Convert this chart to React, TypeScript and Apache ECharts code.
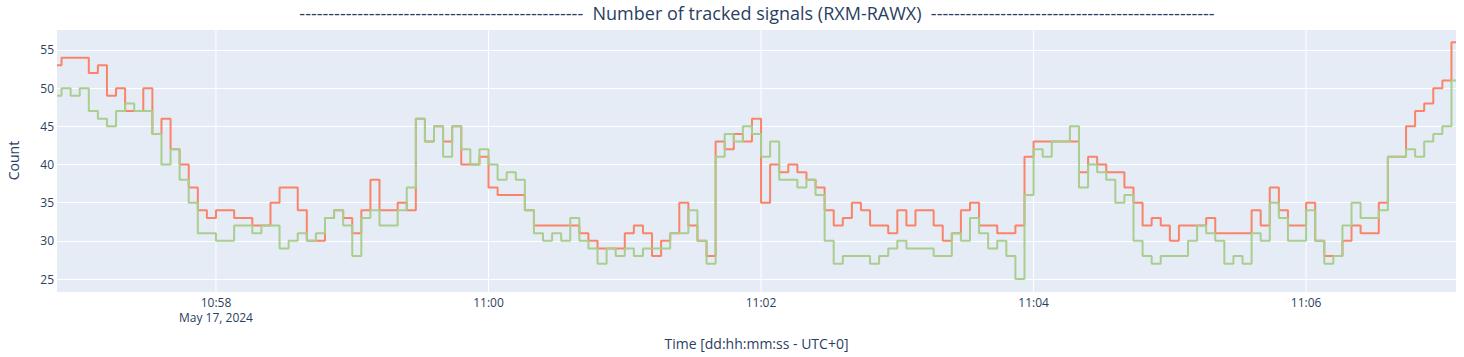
import React, { useEffect, useRef } from "react";
import * as echarts from "echarts";

const START_MS = Date.UTC(2024, 4, 17, 10, 56, 50);
const STEP_S = 4;
const TICK_MS = 120000;

const redCounts = [
  53, 54, 54, 54, 52, 53, 49, 50, 47, 47, 50, 44, 46, 42, 40, 37, 34, 33, 34, 34,
  33, 33, 32, 32, 35, 37, 37, 34, 30, 30, 33, 34, 33, 31, 34, 38, 34, 34, 35,
  34, 46, 43, 45, 43, 45, 40, 40, 41, 37, 36, 36, 36, 34, 32, 32, 32, 32, 32, 31,
  30, 29, 29, 29, 31, 32, 31, 28, 30, 31, 35, 32, 30, 28, 43, 42, 44, 43, 46,
  35, 40, 39, 40, 39, 38, 37, 34, 32, 33, 35, 34, 32, 32, 31, 34, 32, 34, 34, 32,
  30, 31, 34, 35, 32, 32, 31, 31, 32, 41, 43, 43, 43, 43, 43, 39, 41, 40,
  39, 39, 37, 35, 32, 33, 32, 30, 32, 32, 32, 33, 31, 31, 31, 31, 34, 32, 37, 34,
  32, 32, 35, 30, 28, 28, 30, 32, 31, 31, 35, 41, 41, 45, 47, 48, 50, 51, 56,
];

const greenCounts = [
  49, 50, 49, 50, 47, 46, 45, 47, 48, 47, 47, 44, 40, 42, 38, 35, 31, 31, 30, 30,
  32, 32, 31, 32, 32, 29, 30, 31, 30, 31, 33, 34, 32, 28, 33, 34, 32, 32, 34,
  37, 46, 43, 45, 41, 45, 42, 40, 42, 40, 38, 39, 38, 34, 31, 30, 31, 30, 33, 30,
  29, 27, 29, 28, 29, 28, 29, 29, 29, 31, 31, 34, 30, 27, 41, 44, 43, 45, 44,
  41, 43, 38, 38, 37, 38, 36, 30, 27, 28, 28, 28, 27, 28, 29, 30, 29, 29, 29, 28,
  28, 31, 30, 33, 31, 29, 30, 28, 25, 36, 42, 41, 43, 43, 45, 37, 40, 39,
  38, 35, 36, 30, 28, 27, 28, 28, 28, 30, 32, 31, 30, 27, 28, 27, 31, 30, 35, 33,
  30, 30, 34, 30, 27, 28, 32, 35, 33, 33, 34, 41, 41, 42, 41, 43, 44, 45, 51,
];

const times = redCounts.map((_, i) => START_MS + i * STEP_S * 1000);

const dashes = "-".repeat(49);
const titleText = `${dashes}  Number of tracked signals (RXM-RAWX)  ${dashes}`;
const xTitle = "Time [dd:hh:mm:ss - UTC+0]";
const yTitle = "Count";
const dateLabel = "May 17, 2024";

const TEXT = "#2a3f5f";
const FONT = "Open Sans";
const RED = "#FA8468";
const GREEN = "#A9CE8E";

function pad(n: number) {
  return n < 10 ? "0" + n : "" + n;
}

export default function App() {
  const ref = useRef<HTMLDivElement>(null);
  useEffect(() => {
    if (!ref.current) return;
    const chart = echarts.init(ref.current, undefined, { renderer: "svg" });
    const tMin = times[0];
    const tMax = times[times.length - 1];
    const firstTick = Math.ceil(tMin / TICK_MS) * TICK_MS;
    const gridTimes: number[] = [];
    for (let t = firstTick; t <= tMax; t += TICK_MS) gridTimes.push(t);

    const option: any = {
      animation: false,
      backgroundColor: "#ffffff",
      grid: {
        left: 57,
        right: 8,
        top: 29,
        bottom: 65,
        containLabel: false,
        outerBoundsMode: "none",
        show: true,
        backgroundColor: "#E5ECF6",
        borderWidth: 0,
      },
      graphic: [
        {
          type: "text",
          x: 757,
          y: 13,
          style: {
            text: titleText,
            font: `18px "${FONT}"`,
            fill: TEXT,
            textAlign: "center",
            textVerticalAlign: "middle",
          },
        },
      ],
      xAxis: {
        type: "time",
        min: tMin,
        max: tMax,
        axisLine: { show: false },
        axisTick: { show: false },
        splitLine: { show: false },
        axisLabel: {
          color: TEXT,
          fontFamily: FONT,
          fontSize: 12,
          lineHeight: 15,
          margin: 3,
          showMinLabel: false,
          showMaxLabel: false,
          hideOverlap: false,
          formatter: (v: number) => {
            if (((v - firstTick) % TICK_MS + TICK_MS) % TICK_MS !== 0) return "";
            const d = new Date(v);
            const s = pad(d.getUTCHours()) + ":" + pad(d.getUTCMinutes());
            return v === firstTick ? s + "\n" + dateLabel : s;
          },
        },
        name: xTitle,
        nameLocation: "middle",
        nameGap: 44,
        nameTextStyle: { color: TEXT, fontFamily: FONT, fontSize: 14 },
      },
      yAxis: {
        type: "value",
        min: 23.3,
        max: 57.75,
        splitNumber: 5,
        axisLine: { show: false },
        axisTick: { show: false },
        splitLine: { show: true, lineStyle: { color: "#ffffff", width: 1 } },
        axisLabel: {
          color: TEXT,
          fontFamily: FONT,
          fontSize: 12,
          margin: 3,
          showMinLabel: false,
          showMaxLabel: false,
        },
        name: yTitle,
        nameLocation: "middle",
        nameGap: 37,
        nameRotate: 90,
        nameTextStyle: { color: TEXT, fontFamily: FONT, fontSize: 14 },
      },
      series: [
        {
          type: "custom",
          name: "xgrid",
          silent: true,
          z: 1,
          data: gridTimes.map((t) => [t, 40]),
          renderItem: (params: any, api: any) => {
            const x = api.coord([api.value(0), api.value(1)])[0];
            const cs = params.coordSys;
            return {
              type: "line",
              shape: { x1: x, y1: cs.y, x2: x, y2: cs.y + cs.height },
              style: { stroke: "#ffffff", lineWidth: 1 },
            };
          },
        },
        {
          type: "line",
          name: "red",
          z: 2,
          data: times.map((t, i) => [t, redCounts[i]]),
          showSymbol: false,
          step: "middle",
          lineStyle: { color: RED, width: 2 },
          itemStyle: { color: RED },
        },
        {
          type: "line",
          name: "green",
          z: 3,
          data: times.map((t, i) => [t, greenCounts[i]]),
          showSymbol: false,
          step: "middle",
          lineStyle: { color: GREEN, width: 2 },
          itemStyle: { color: GREEN },
        },
      ],
    };
    chart.setOption(option);
    return () => chart.dispose();
  }, []);
  return (
    <div
      ref={ref}
      style={{ position: "fixed", left: 0, top: 0, width: 1464, height: 357 }}
    />
  );
}
